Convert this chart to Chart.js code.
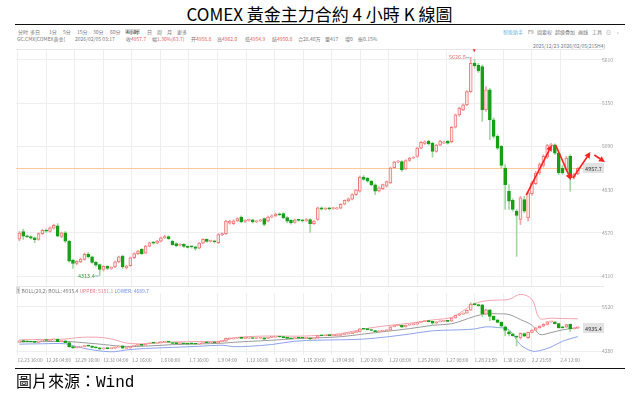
<!DOCTYPE html>
<html>
<head>
<meta charset="utf-8">
<title>COMEX 黃金主力合約 4 小時 K 線圖</title>
<script src="https://cdn.jsdelivr.net/npm/chart.js"></script>
<style>
  body { margin: 0; width: 639px; height: 396px; background: #fff; position: relative; overflow: hidden; }
  .abs { position: absolute; white-space: nowrap; line-height: 1; }
  #title { left: 0; top: 5px; width: 639px; text-align: center; font-size: 17px; color: #000;
           font-family: "Liberation Sans Narrow", "Noto Sans CJK TC", sans-serif; }
  .rule { position: absolute; left: 15px; width: 610px; height: 0; border-top: 1.6px solid #111; }
  .ui { font-family: "Noto Sans CJK SC", sans-serif; font-size: 5px; color: #777; }
  .red { color: #e85a5a; }
  .blue { color: #6f8ff0; }
  .pink { color: #f07a86; }
  .sel { background: #dcdcdc; padding: 0 1px; }
  #footer { left: 16px; top: 372px; font-size: 16px; color: #000; font-family: "Noto Sans CJK TC", sans-serif; }
  #footer span { font-family: "Liberation Mono", monospace; }
  canvas { position: absolute; left: 0; }
</style>
</head>
<body>
<div id="title" class="abs">COMEX 黃金主力合約 4 小時 K 線圖</div>
<div class="rule" style="top:24px"></div>

<!-- toolbar row -->
<div class="abs ui" style="left:18px;top:28.5px">分时</div>
<div class="abs ui" style="left:30px;top:28.5px">多日</div>
<div class="abs ui" style="left:49px;top:28.5px">1分</div>
<div class="abs ui" style="left:63px;top:28.5px">5分</div>
<div class="abs ui" style="left:77px;top:28.5px">15分</div>
<div class="abs ui" style="left:93px;top:28.5px">30分</div>
<div class="abs ui" style="left:110px;top:28.5px">60分</div>
<div class="abs ui sel" style="left:125px;top:28.5px;color:#333">4小时</div>
<div class="abs ui" style="left:147px;top:28.5px">日</div>
<div class="abs ui" style="left:157px;top:28.5px">周</div>
<div class="abs ui" style="left:167px;top:28.5px">月</div>
<div class="abs ui" style="left:177px;top:28.5px">更多</div>
<div class="abs ui" style="left:503px;top:28.5px;color:#6bb4e4">智能助手</div>
<div class="abs ui" style="left:528px;top:28.5px">F9</div>
<div class="abs ui" style="left:537px;top:28.5px">阅要权</div>
<div class="abs ui" style="left:555px;top:28.5px">超级叠加</div>
<div class="abs ui" style="left:578px;top:28.5px">画线</div>
<div class="abs ui" style="left:592px;top:28.5px">工具</div>
<div class="abs ui" style="left:606px;top:28.5px">⊙</div>
<div class="abs ui" style="left:617px;top:28.5px">›</div>

<!-- quote row -->
<div class="abs ui" style="left:17px;top:36px">GC.CMX[COMEX黄金]</div>
<div class="abs ui" style="left:75px;top:36px">2026/02/05 03:17</div>
<div class="abs ui" style="left:126px;top:36px">收<span class="red">4957.7</span></div>
<div class="abs ui" style="left:152px;top:36px">幅<span class="red">1.30%(63.7)</span></div>
<div class="abs ui" style="left:191px;top:36px">开<span class="red">4958.8</span></div>
<div class="abs ui" style="left:217px;top:36px">高<span class="red">4962.0</span></div>
<div class="abs ui" style="left:245px;top:36px">低<span class="red">4954.9</span></div>
<div class="abs ui" style="left:272px;top:36px">结<span class="red">4950.8</span></div>
<div class="abs ui" style="left:298px;top:36px">合28.48万</div>
<div class="abs ui" style="left:325px;top:36px">量417</div>
<div class="abs ui" style="left:345px;top:36px">增0</div>
<div class="abs ui" style="left:358px;top:36px">振0.15%</div>
<div class="abs ui" style="left:533px;top:42.5px">2025/12/23-2026/02/05(215H4)</div>

<!-- canvases are taller than their plot areas: the y axis keeps 12px above and below -->
<canvas id="main" width="639" height="262" style="top:37px"></canvas>

<div class="abs ui" style="left:16px;top:288px"><span class="sel">?</span> BOLL(20,2) BOLL: 4935.4 <span class="pink">UPPER: 5181.1</span> <span class="blue">LOWER: 4689.7</span></div>
<canvas id="boll" width="639" height="88" style="top:281px"></canvas>

<div class="rule" style="top:368px"></div>
<div id="footer" class="abs">圖片來源：<span>Wind</span></div>

<script>
// x-axis labels (one per vertical grid line)
const tickLabels = ['12.23 16:00', '12.26 04:00', '12.29 16:00', '12.31 04:00', '1.2 16:00',
  '1.6 00:00', '1.7 16:00', '1.9 04:00', '1.12 16:00', '1.14 04:00', '1.15 20:00', '1.19 04:00',
  '1.20 20:00', '1.22 08:00', '1.25 20:00', '1.27 08:00', '1.28 23:59', '1.30 12:00', '2.2 23:59', '2.4 12:00'];
const mainTicks = [4310, 4570, 4830, 5090, 5350, 5610];
const bollTicks = [4280, 5520];

// 4H candles
const openP = [4532,4578,4552,4548,4540,4530,4565,4585,4578,4598, 4612,4548,4570,4520,4405,4385,4395,4410,4442,4425,
  4392,4378,4350,4368,4355,4365,4395,4430,4360,4372, 4420,4445,4470,4448,4490,4510,4508,4520,4540,4548,
  4520,4505,4495,4500,4486,4488,4485,4478,4508,4530, 4518,4520,4510,4558,4565,4628,4625,4642,4665,4638,
  4645,4648,4636,4642,4655,4640,4665,4672,4682,4685, 4662,4645,4632,4648,4645,4642,4650,4625,4650,4720,
  4712,4718,4716,4714,4718,4742,4762,4772,4800,4820, 4905,4898,4880,4858,4822,4836,4850,4870,4962,4995,
  4998,4955,5005,5020,5030,5080,5108,5122,5110,5060, 5098,5110,5122,5118,5205,5280,5310,5340,5420,5592,
  5578,5570,5310,5430,5250,5150,5090,4960,4820,4765, 4700,4650,4770,4660,4805,4865,4930,4975,5025,5095,
  5100,5050,4960,4950,5030,4905,4925];
const highP = [4578,4592,4558,4552,4545,4570,4590,4592,4606,4622, 4625,4575,4578,4525,4412,4402,4418,4448,4452,4430,
  4398,4382,4372,4372,4366,4400,4430,4435,4375,4425, 4450,4465,4475,4495,4515,4518,4525,4545,4555,4552,
  4525,4510,4505,4505,4492,4492,4490,4512,4535,4534, 4526,4525,4565,4570,4645,4645,4648,4660,4672,4650,
  4652,4652,4646,4650,4660,4670,4678,4688,4690,4690, 4668,4650,4652,4652,4650,4656,4655,4644,4725,4726,
  4722,4722,4722,4724,4746,4768,4780,4804,4832,4912, 4915,4904,4886,4864,4846,4864,4882,4966,5000,5006,
  5004,5010,5025,5028,5085,5120,5124,5128,5116,5102, 5126,5122,5126,5210,5285,5326,5346,5426,5626.8,5615,
  5590,5580,5450,5440,5262,5160,5096,4980,4860,4775, 4712,4790,4790,4815,4880,4940,4990,5040,5102,5108,
  5106,5056,4975,5030,5040,4928,4962];
const lowP = [4522,4530,4540,4532,4510,4525,4560,4572,4574,4592, 4545,4540,4512,4395,4355,4378,4390,4405,4418,4385,
  4368,4313.4,4340,4348,4350,4360,4390,4355,4352,4368, 4415,4440,4440,4445,4485,4502,4505,4515,4535,4530,
  4495,4485,4490,4482,4478,4478,4465,4474,4504,4512, 4514,4508,4505,4552,4560,4622,4620,4638,4630,4632,
  4640,4628,4630,4636,4612,4635,4660,4668,4674,4655, 4630,4622,4628,4640,4635,4638,4572,4620,4645,4706,
  4708,4708,4710,4710,4714,4738,4756,4768,4795,4815, 4886,4874,4852,4800,4816,4830,4845,4866,4958,4990,
  4940,4950,5000,5015,5025,5075,5102,5098,5025,5055, 5094,5106,5104,5112,5200,5272,5305,5335,5415,5560,
  5535,5240,5300,5130,5140,5070,4962,4710,4710,4700, 4428,4620,4690,4640,4795,4860,4920,4965,5015,5080,
  5040,4920,4920,4940,4820,4895,4920];
const closeP = [4568,4550,4545,4538,4528,4565,4585,4580,4600,4615, 4550,4570,4520,4400,4385,4398,4412,4440,4425,4392,
  4375,4350,4368,4355,4362,4395,4425,4365,4370,4420, 4445,4460,4445,4490,4510,4508,4520,4540,4548,4535,
  4498,4492,4500,4488,4482,4485,4476,4508,4530,4518, 4522,4516,4560,4565,4640,4640,4642,4655,4635,4645,
  4648,4635,4642,4646,4620,4665,4672,4682,4678,4660, 4640,4630,4648,4645,4642,4650,4625,4640,4720,4712,
  4718,4714,4719,4720,4742,4765,4775,4800,4828,4905, 4892,4880,4858,4820,4840,4860,4878,4960,4995,5000,
  4950,5005,5020,5024,5080,5115,5118,5105,5060,5098, 5122,5118,5110,5205,5280,5320,5340,5420,5590,5575,
  5545,5310,5430,5250,5150,5080,4975,4860,4760,4710, 4675,4780,4700,4810,4870,4930,4980,5030,5095,5100,
  5050,4930,4930,5020,4900,4920,4957.7];

// BOLL(20,2) lines, sampled off the lower panel at these bar positions
const bollIdx   = [0, 6, 12, 15, 18, 22, 25, 28, 33, 40, 47, 53, 56, 60, 66, 72, 78, 84, 90, 96, 102, 108, 113, 116, 119, 122, 125, 128, 131, 134, 136, 139, 142, 146];
const bollUpper = [4600,4610,4620,4660,4675,4660,4600,4510,4490,4540,4550,4560,4650,4690,4705,4700,4720,4770,4900,4990,5060,5150,5220,5400,5600,5680,5700,5720,5860,5720,5200,5200,5190,5181.1];
const bollMid   = [4540,4550,4555,4535,4508,4470,4435,4415,4425,4465,4485,4505,4530,4555,4588,4630,4655,4685,4760,4835,4910,5000,5045,5140,5250,5320,5320,5300,5160,5005,4750,4800,4875,4935.4];
const bollLower = [4480,4490,4490,4410,4340,4280,4270,4320,4360,4390,4420,4450,4410,4420,4470,4560,4590,4600,4620,4680,4760,4850,4870,4880,4900,4960,4940,4880,4460,4290,4300,4400,4560,4689.7];

// hand-drawn red arrows, [bar, price] from -> to
const arrowFrom = [[132.5, 4797], [140.2, 5098], [144.7, 4900], [150.3, 5038]];
const arrowTo   = [[139.2, 5098], [144.2, 4888], [149.3, 5056], [153.1, 4996]];

// layout of the bar axis
const X_MIN = -0.89, X_MAX = 152.84, TICK_START = -0.48, TICK_STEP = 7.468;

const UP_LINE = '#f27878', UP_FILL = '#fdeaea', UP_WICK = '#f6a5a5';
const DN_FILL = '#17a017', DN_WICK = '#a3d8a3';
const GRID = '#eeeeee';

function candleSets() {
  const up = closeP.map((c, i) => c >= openP[i]);
  return [
    {
      type: 'bar', order: 1, grouped: false, barThickness: 3, minBarLength: 1,
      data: closeP.map((c, i) => ({ x: i, y: [openP[i], c] })),
      backgroundColor: up.map(u => u ? UP_FILL : DN_FILL),
      borderColor: up.map(u => u ? UP_LINE : DN_FILL),
      borderWidth: 1, borderSkipped: false
    },
    {
      type: 'bar', order: 2, grouped: false, barThickness: 1,
      data: closeP.map((c, i) => ({ x: i, y: [lowP[i], highP[i]] })),
      backgroundColor: up.map(u => u ? UP_WICK : DN_WICK)
    }
  ];
}

function xScale(showLabels) {
  return {
    type: 'linear', min: X_MIN, max: X_MAX, offset: false,
    grid: { color: GRID, drawTicks: false, offset: false },
    border: { display: false },
    afterBuildTicks: s => { s.ticks = tickLabels.map((t, k) => ({ value: TICK_START + k * TICK_STEP })); },
    ticks: {
      display: showLabels, autoSkip: false, maxRotation: 0, minRotation: 0, align: 'start',
      padding: 2, color: '#8a8a8a', font: { family: 'Noto Sans CJK SC', size: 4.8 },
      callback: (v, k) => tickLabels[k]
    }
  };
}

function yScale(min, max, values) {
  return {
    position: 'right', min: min, max: max,
    grid: { color: GRID, drawTicks: false },
    border: { display: false },
    afterBuildTicks: s => { s.ticks = values.map(v => ({ value: v })); },
    ticks: { mirror: true, padding: 9, color: '#9a9a9a', font: { family: 'Noto Sans CJK SC', size: 5 },
             callback: v => String(v) }
  };
}

function priceBox(ctx, a, py, text) {
  ctx.fillStyle = '#e2e2e2';
  ctx.fillRect(a.right - 21, py - 5, 21, 10);
  ctx.fillStyle = '#333';
  ctx.font = '5.5px "Noto Sans CJK SC"';
  ctx.textAlign = 'center';
  ctx.textBaseline = 'middle';
  ctx.fillText(text, a.right - 10.5, py + 0.5);
}

const mainOverlay = {
  id: 'mainOverlay',
  beforeDatasetsDraw(chart) {
    const { ctx, chartArea: a, scales: { y } } = chart;
    const last = closeP[closeP.length - 1];
    const py = Math.round(y.getPixelForValue(last)) + 0.5;
    ctx.save();
    ctx.strokeStyle = '#e8e8e8';
    ctx.beginPath(); ctx.moveTo(a.left, a.top + 0.5); ctx.lineTo(a.right, a.top + 0.5); ctx.stroke();
    ctx.beginPath(); ctx.moveTo(a.left, a.bottom - 0.5); ctx.lineTo(a.right, a.bottom - 0.5); ctx.stroke();
    ctx.strokeStyle = '#fbc99a';
    ctx.beginPath(); ctx.moveTo(a.left, py); ctx.lineTo(a.right - 21, py); ctx.stroke();
    ctx.restore();
  },
  afterDraw(chart) {
    const { ctx, chartArea: a, scales: { x, y } } = chart;
    ctx.save();
    priceBox(ctx, a, Math.round(y.getPixelForValue(closeP[closeP.length - 1])), closeP[closeP.length - 1].toFixed(1));

    // highest / lowest marks
    const hi = Math.max(...highP), lo = Math.min(...lowP);
    const hx = x.getPixelForValue(highP.indexOf(hi)), hy = y.getPixelForValue(hi);
    const lx = x.getPixelForValue(lowP.indexOf(lo)), ly = y.getPixelForValue(lo);
    ctx.font = '5.5px "Noto Sans CJK SC"';
    ctx.textBaseline = 'middle';
    ctx.textAlign = 'right';
    ctx.strokeStyle = '#8fb4d6';
    ctx.lineWidth = 1;
    ctx.beginPath(); ctx.moveTo(hx - 5, hy + 0.5); ctx.lineTo(hx - 1, hy + 0.5); ctx.stroke();
    ctx.beginPath(); ctx.moveTo(lx - 5, ly + 0.5); ctx.lineTo(lx - 1, ly + 0.5); ctx.stroke();
    ctx.fillStyle = '#ef7070';
    ctx.fillText(hi.toFixed(1), hx - 5, hy);
    ctx.fillStyle = '#3f9b3f';
    ctx.fillText(lo.toFixed(1), lx - 5, ly);
    ctx.fillStyle = '#ff2a2a';
    ctx.beginPath(); ctx.moveTo(hx + 2, hy - 8); ctx.lineTo(hx + 5, hy - 8); ctx.lineTo(hx + 3.5, hy - 5); ctx.fill();

    // red arrows
    ctx.strokeStyle = '#ff2020';
    ctx.fillStyle = '#ff2020';
    ctx.lineWidth = 1.6;
    arrowFrom.forEach((f, k) => {
      const t = arrowTo[k];
      const x1 = x.getPixelForValue(f[0]), y1 = y.getPixelForValue(f[1]);
      const x2 = x.getPixelForValue(t[0]), y2 = y.getPixelForValue(t[1]);
      const ang = Math.atan2(y2 - y1, x2 - x1);
      const hl = 6, hw = 3;
      const bx = x2 - hl * Math.cos(ang), by = y2 - hl * Math.sin(ang);
      ctx.beginPath(); ctx.moveTo(x1, y1); ctx.lineTo(bx, by); ctx.stroke();
      ctx.beginPath();
      ctx.moveTo(x2, y2);
      ctx.lineTo(bx + hw * Math.sin(ang), by - hw * Math.cos(ang));
      ctx.lineTo(bx - hw * Math.sin(ang), by + hw * Math.cos(ang));
      ctx.closePath(); ctx.fill();
    });
    ctx.restore();
  }
};

const bollOverlay = {
  id: 'bollOverlay',
  afterDraw(chart) {
    const { ctx, chartArea: a, scales: { y } } = chart;
    ctx.save();
    const m = bollMid[bollMid.length - 1];
    priceBox(ctx, a, Math.round(y.getPixelForValue(m)), m.toFixed(1));
    ctx.restore();
  }
};

const common = {
  responsive: false,
  animation: false,
  events: [],
  plugins: { legend: { display: false }, tooltip: { enabled: false } }
};

new Chart(document.getElementById('main'), {
  type: 'bar',
  data: { datasets: candleSets() },
  options: Object.assign({}, common, {
    layout: { padding: { left: 16, right: 17, top: 0, bottom: 0 } },
    scales: { x: xScale(false), y: yScale(4243.8, 5676.2, mainTicks) }
  }),
  plugins: [mainOverlay]
});

function bandLine(values, color) {
  return {
    type: 'line', order: 3, borderColor: color, borderWidth: 1, pointRadius: 0, tension: 0.35,
    data: bollIdx.map((b, k) => ({ x: b, y: values[k] }))
  };
}

new Chart(document.getElementById('boll'), {
  type: 'bar',
  data: {
    datasets: candleSets().concat([
      bandLine(bollMid, '#9a9a9a'),
      bandLine(bollUpper, '#f4a3ad'),
      bandLine(bollLower, '#8ea3ee')
    ])
  },
  options: Object.assign({}, common, {
    layout: { padding: { left: 16, right: 17, top: 0, bottom: 4 } },
    scales: { x: xScale(true), y: yScale(4172, 5897, bollTicks) }
  }),
  plugins: [bollOverlay]
});
</script>
</body>
</html>
